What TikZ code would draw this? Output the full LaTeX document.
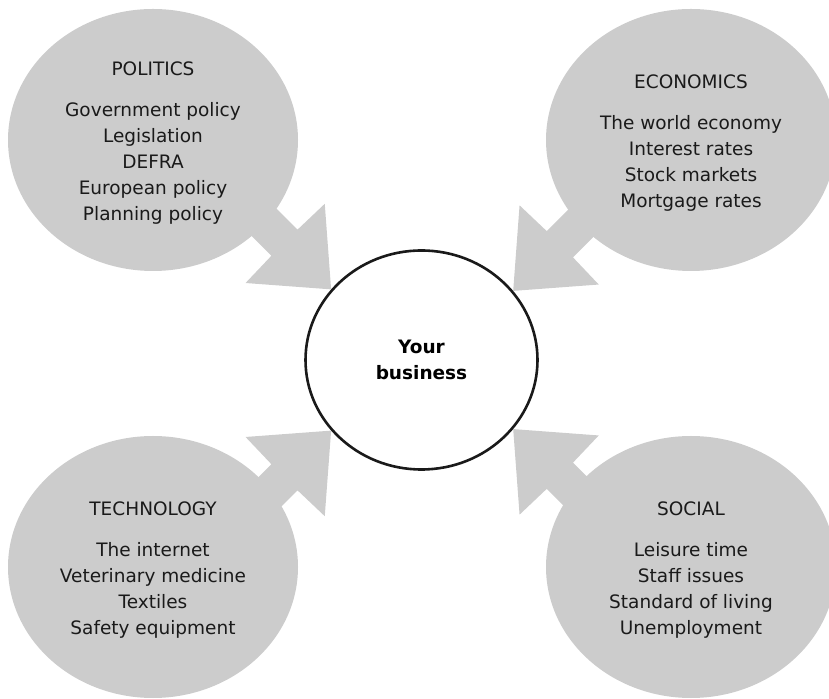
\documentclass[tikz,border=0pt]{standalone}
\usepackage{fontspec}
\setmainfont{DejaVu Sans}
\usetikzlibrary{shapes.geometric}
\definecolor{pestgrey}{HTML}{CCCCCC}
\definecolor{inktext}{HTML}{1A1A1A}
\tikzstyle{pestcircle} = [ellipse, minimum width=290pt, minimum height=262pt, inner sep=0pt, fill=pestgrey]
\tikzstyle{listtext} = [align=center, inner sep=0pt, text=inktext, font=\fontsize{18.5}{25.8}\selectfont]
\tikzstyle{bizcircle} = [ellipse, minimum width=232pt, minimum height=219pt, inner sep=0pt, draw=inktext, line width=2.6pt, fill=white, align=center, text=black, font=\fontsize{18.5}{25.8}\selectfont\bfseries]
\tikzset{blockarrow/.pic={
    \fill[pestgrey] (0,0) -- (-65,56) -- (-66,18.5) -- (-130,18.5) -- (-130,-18.5) -- (-66,-18.5) -- (-65,-56) -- cycle;
}}

\begin{document}
\begin{tikzpicture}[x=1pt, y=1pt]
    \useasboundingbox (0,0) rectangle (829,698);

    % the four forces
    \node (pol) [pestcircle] at (153,558) {};
    \node (eco) [pestcircle] at (691,558) {};
    \node (tec) [pestcircle] at (153,131) {};
    \node (soc) [pestcircle] at (691,131) {};

    \node (pol_txt) [listtext, yshift=-3pt] at (pol) {POLITICS\\[15.5pt] Government policy\\ Legislation\\ DEFRA\\ European policy\\ Planning policy};
    \node (eco_txt) [listtext, yshift=-3pt] at (eco) {ECONOMICS\\[15.5pt] The world economy\\ Interest rates\\ Stock markets\\ Mortgage rates};
    \node (tec_txt) [listtext, yshift=-3pt] at (tec) {TECHNOLOGY\\[15.5pt] The internet\\ Veterinary medicine\\ Textiles\\ Safety equipment};
    \node (soc_txt) [listtext, yshift=-3pt] at (soc) {SOCIAL\\[15.5pt] Leisure time\\ Staff issues\\ Standard of living\\ Unemployment};

    % centre
    \node (biz) [bizcircle] at (421.5,338) {Your\\business};

    \coordinate (pol_tip) at (biz.142.6);
    \coordinate (eco_tip) at (biz.37.4);
    \coordinate (tec_tip) at (biz.-142.6);
    \coordinate (soc_tip) at (biz.-37.4);

    \pic[rotate=-45] at (pol_tip) {blockarrow};
    \pic[rotate=-135] at (eco_tip) {blockarrow};
    \pic[rotate=45] at (tec_tip) {blockarrow};
    \pic[rotate=135] at (soc_tip) {blockarrow};
\end{tikzpicture}
\end{document}
